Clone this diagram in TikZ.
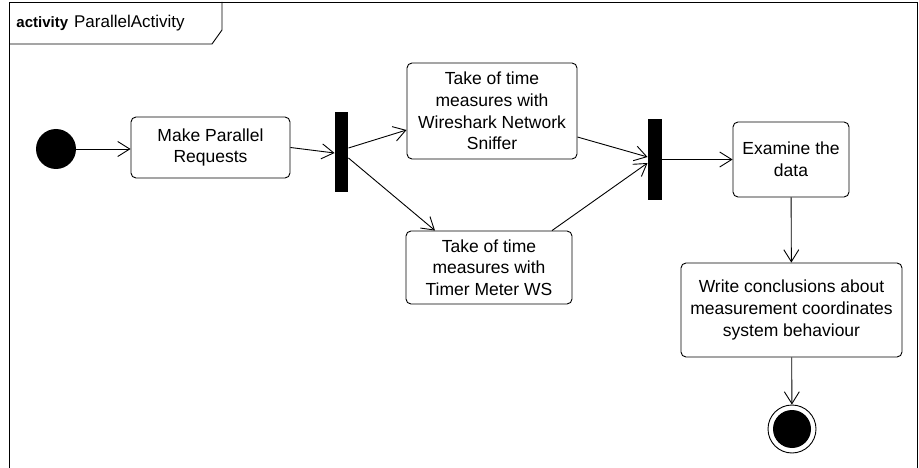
\documentclass[tikz,border=0pt]{standalone}
\usepackage{fontspec}
\setmainfont{Liberation Sans}
\usetikzlibrary{arrows.meta}

\tikzset{
  action/.style={draw, rounded corners=5pt, align=center, inner sep=2pt,
    font=\fontsize{17.5}{21.7}\selectfont},
  bar/.style={fill=black, draw=none, minimum width=13pt, minimum height=80pt, inner sep=0pt},
  flow/.style={-{Straight Barb[length=12pt,width=15pt,line width=0.9pt]}}
}

\begin{document}
\begin{tikzpicture}[x=1pt, y=-1pt, line width=0.9pt]
        \useasboundingbox (0,0) rectangle (919,468);

        % frame and name tab
        \draw (9,468) -- (9,2) -- (917,2) -- (917,468);
        \draw (9,44) -- (212,44) -- (222,30) -- (222,2);
        \node[anchor=base west, inner sep=0pt] (title) at (16,28)
          {\fontsize{15}{16}\selectfont\textbf{activity}\hspace{6pt}\fontsize{17}{18}\selectfont ParallelActivity};

        % start and end nodes
        \node[circle, fill=black, minimum size=40pt, inner sep=0pt] (start) at (56,149) {};
        \node[circle, draw, minimum size=48pt, inner sep=0pt] (final) at (792,429) {};
        \fill[black] (final.center) circle (19pt);

        % actions
        \node[action, minimum width=159pt, minimum height=61pt] (request) at (210.5,147.5) {Make Parallel\\Requests};
        \node[action, minimum width=170pt, minimum height=96pt] (wireshark) at (492,111) {Take of time\\measures with\\Wireshark Network\\Sniffer};
        \node[action, minimum width=166pt, minimum height=73pt] (timer) at (489,267.5) {Take of time\\measures with\\Timer Meter WS};
        \node[action, minimum width=116pt, minimum height=75pt] (examine) at (791,159.5) {Examine the\\data};
        \node[action, minimum width=221pt, minimum height=94pt] (conclude) at (791.5,310) {Write conclusions about\\measurement coordinates\\system behaviour};

        % fork and join bars
        \node[bar] (fork) at (341.5,152) {};
        \node[bar, minimum width=14pt, minimum height=81pt] (join) at (655,159.5) {};

        % control flows
        \draw[flow] (start) -- (start -| request.west);
        \draw[flow] (request.east) -- ([yshift=-1pt]fork.west);
        \draw[flow] ([yshift=4pt]fork.east) -- ([yshift=-19pt]wireshark.west);
        \draw[flow] ([yshift=-6pt]fork.east) -- ([xshift=-54pt]timer.north);
        \draw[flow] ([yshift=-26pt]wireshark.east) -- ([yshift=2.5pt]join.west);
        \draw[flow] ([xshift=63pt]timer.north) -- ([yshift=-3.5pt]join.west);
        \draw[flow] (join.east) -- (examine.west);
        \draw[flow] (examine) -- (conclude);
        \draw[flow] (conclude) -- (final);

    \end{tikzpicture}
\end{document}
